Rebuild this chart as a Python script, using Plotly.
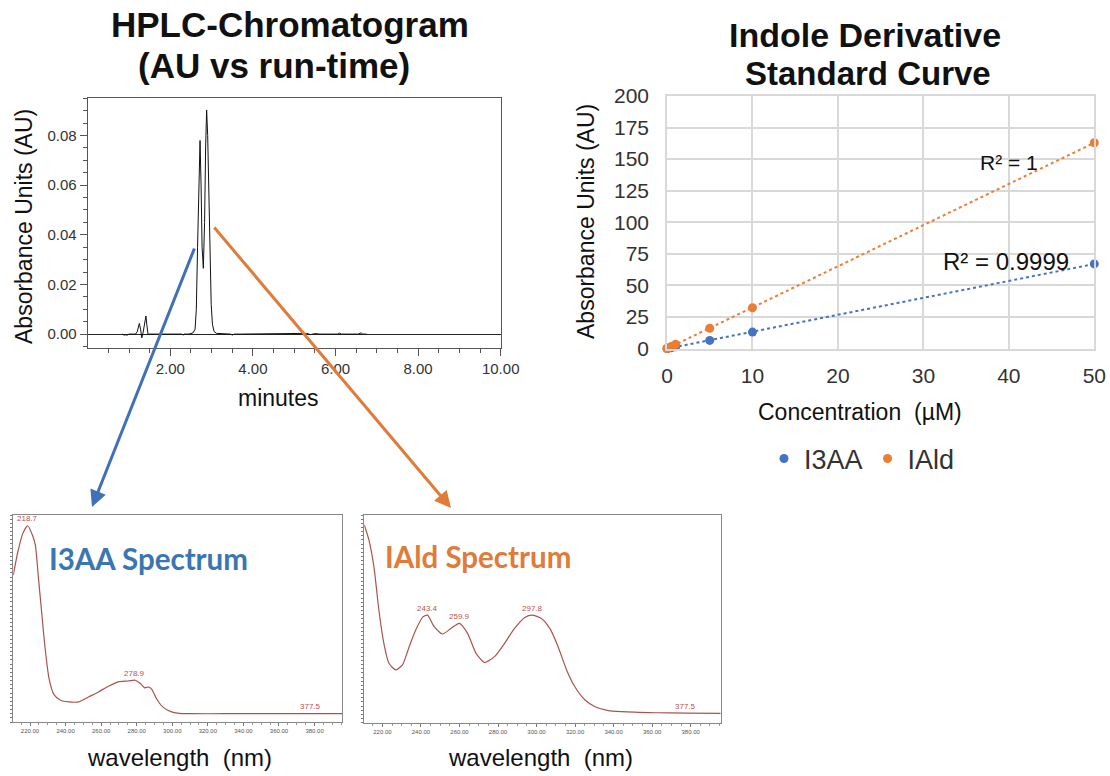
import numpy as np
import plotly.graph_objects as go

# ---------------- data ----------------
# HPLC chromatogram (run-time in minutes, absorbance in AU)
rt_min = [0.84, 0.88, 0.92, 0.96, 1.00, 1.08, 1.16, 1.20, 1.25, 1.28, 1.31, 1.34, 1.38, 1.41, 1.43,
          1.46, 1.49, 1.60, 1.80, 1.98, 2.03, 2.08, 2.14, 2.20, 2.28, 2.31, 2.34, 2.45, 2.55, 2.60,
          2.63, 2.66, 2.69, 2.72, 2.745, 2.77, 2.80, 2.83, 2.855, 2.88, 2.905, 2.93, 2.96, 2.99,
          3.02, 3.06, 3.12, 3.30, 3.46, 3.50, 3.55, 3.70, 4.50, 5.20, 5.30, 5.40, 5.50, 5.62, 5.80,
          6.05, 6.10, 6.14, 6.55, 6.62, 6.66, 6.75]
rt_au = [0.0, -0.0004, -0.0003, -0.0004, 0.0, 0.0, 0.0, 0.001, 0.0043, 0.002, -0.0015, 0.0005, 0.0045,
         0.0073, 0.004, 0.0, 0.0, 0.0, 0.0, -0.0003, 0.0, -0.0003, 0.0, 0.0, 0.0, -0.0004, 0.0, 0.0,
         0.0005, 0.002, 0.010, 0.035, 0.065, 0.078, 0.060, 0.035, 0.0265, 0.045, 0.075, 0.0903,
         0.080, 0.055, 0.030, 0.012, 0.004, 0.001, 0.0003, 0.0, 0.0, -0.0004, 0.0, 0.0, 0.0, 0.0,
         0.0003, -0.0002, 0.0002, 0.0, 0.0, 0.0, 0.0004, 0.0, 0.0, 0.0005, 0.0, 0.0]

# Standard curve
conc_uM = [0, 0.1, 0.5, 1, 5, 10, 50]
i3aa_au = [0, 0.1, 0.6, 1.3, 6.4, 13.0, 67.0]
iald_au = [0, 0.3, 1.6, 3.3, 16.0, 32.3, 163.0]
r2_labels = ["R² = 0.9999", "R² = 1"]

# UV spectra (relative absorbance)
i3aa_nm = [210.6, 213.1, 215.9, 218.7, 221.5, 223.0, 224.8, 226.7, 228.5, 230.7, 233.5, 237.2,
           241.8, 247.4, 252.9, 258.5, 264.1, 269.6, 275.2, 278.9, 282.2, 284.4, 286.7, 288.5,
           290.9, 294.6, 299.2, 303.9, 310.0, 330.0, 350.0, 377.5, 395.6]
i3aa_abs = [0.71, 0.82, 0.91, 0.948, 0.90, 0.855, 0.69, 0.516, 0.355, 0.21, 0.132, 0.105, 0.097,
            0.097, 0.121, 0.145, 0.173, 0.194, 0.198, 0.202, 0.185, 0.165, 0.169, 0.158, 0.116,
            0.073, 0.05, 0.042, 0.04, 0.04, 0.04, 0.04, 0.04]
i3aa_peaks = [218.7, 278.9, 377.5]

iald_nm = [210.6, 213.0, 215.6, 218.2, 220.8, 223.4, 226.9, 230.4, 233.9, 237.3, 240.8, 243.4,
           246.9, 251.2, 255.6, 259.9, 264.2, 268.6, 273.0, 278.2, 283.4, 288.6, 293.9, 297.8,
           302.5, 306.9, 311.2, 315.6, 319.9, 325.2, 330.4, 337.3, 344.2, 361.7, 377.5, 395.6]
iald_abs = [0.952, 0.88, 0.75, 0.54, 0.38, 0.286, 0.254, 0.278, 0.366, 0.446, 0.507, 0.518,
            0.462, 0.427, 0.454, 0.478, 0.43, 0.334, 0.29, 0.318, 0.382, 0.454, 0.507, 0.518,
            0.502, 0.454, 0.366, 0.254, 0.173, 0.109, 0.077, 0.058, 0.053, 0.048, 0.046, 0.045]
iald_peaks = [243.4, 259.9, 297.8, 377.5]

wl_ticks = [220, 240, 260, 280, 300, 320, 340, 360, 380]
rt_ticks = [2, 4, 6, 8, 10]

# ---------------- helpers ----------------
W, H = 1110, 776
def px(x):
    return x / W
def py(y):
    return 1 - y / H

BLUE = "#4472C4"
ORANGE = "#ED7D31"
SPEC = "#A8544E"
FONT = "Liberation Sans, Arial, sans-serif"

fig = go.Figure()

# chromatogram
fig.add_trace(go.Scatter(x=rt_min, y=rt_au, mode="lines", line=dict(color="#111", width=1),
                         xaxis="x", yaxis="y", showlegend=False, hoverinfo="skip"))

# standard curve with linear trendlines
for name, vals, color in [("I3AA", i3aa_au, BLUE), ("IAld", iald_au, ORANGE)]:
    coef = np.polyfit(conc_uM, vals, 1)
    xs = np.array([min(conc_uM), max(conc_uM)])
    fig.add_trace(go.Scatter(x=xs, y=np.polyval(coef, xs), mode="lines",
                             line=dict(color=color, width=2, dash="dot"),
                             xaxis="x2", yaxis="y2", showlegend=False, cliponaxis=False))
for name, vals, color in [("I3AA", i3aa_au, BLUE), ("IAld", iald_au, ORANGE)]:
    fig.add_trace(go.Scatter(x=conc_uM, y=vals, mode="markers", name=name,
                             marker=dict(color=color, size=9), xaxis="x2", yaxis="y2",
                             cliponaxis=False))

# spectra
fig.add_trace(go.Scatter(x=i3aa_nm, y=i3aa_abs, mode="lines", line=dict(color=SPEC, width=1.2, shape="spline", smoothing=0.6),
                         xaxis="x3", yaxis="y3", showlegend=False))
fig.add_trace(go.Scatter(x=iald_nm, y=iald_abs, mode="lines", line=dict(color=SPEC, width=1.2, shape="spline", smoothing=0.6),
                         xaxis="x4", yaxis="y4", showlegend=False))

axis_line = "#555"
spec_x = dict(range=[210.6, 395.6], tickvals=wl_ticks, ticktext=[f"{v:.2f}" for v in wl_ticks],
              tickfont=dict(size=6, color="#555", family=FONT), ticks="outside", ticklen=3,
              tickcolor="#777", minor=dict(ticks="outside", dtick=5, tick0=210, ticklen=2, tickcolor="#999"),
              showline=True, linecolor="#888", mirror=True, showgrid=False, zeroline=False)
spec_y = dict(range=[0, 1], showticklabels=False, ticks="outside", ticklen=2, dtick=0.02, tickcolor="#777",
              showline=True, linecolor="#888", mirror=True, showgrid=False, zeroline=False)

annotations = []
def text(x, y, s, size, color="#111", bold=False, angle=0, family=FONT, xanchor="center"):
    annotations.append(dict(x=px(x), y=py(y), xref="paper", yref="paper", text=f"<b>{s}</b>" if bold else s,
                            showarrow=False, font=dict(size=size, color=color, family=family),
                            textangle=angle, xanchor=xanchor, yanchor="middle"))

# titles
text(290, 25, "HPLC-Chromatogram", 35, bold=True)
text(274, 65, "(AU vs run-time)", 35, bold=True)
text(865, 35, "Indole Derivative", 34, bold=True)
text(868, 73, "Standard Curve", 33, bold=True)
# axis titles
text(24, 227, "Absorbance Units (AU)", 23, angle=-90)
text(278, 398, "minutes", 23)
text(586, 222, "Absorbance Units (AU)", 23, angle=-90)
text(860, 412, "Concentration  (µM)", 23)
text(179, 757, "wavelength  (nm)", 24)
text(540, 757, "wavelength  (nm)", 24)
# spectrum titles
text(148, 558, "I3AA Spectrum", 29.5, color="#3A76B3", bold=True, family="Lato, Open Sans, sans-serif")
text(478, 556, "IAld Spectrum", 29.5, color="#E07B39", bold=True, family="Lato, Open Sans, sans-serif")

# R² labels next to the trendlines
annotations.append(dict(x=50, y=67, xref="x2", yref="y2", text=r2_labels[0], showarrow=False,
                        xshift=-88, yshift=2, font=dict(size=24, color="#111", family=FONT)))
annotations.append(dict(x=40, y=150, xref="x2", yref="y2", text=r2_labels[1], showarrow=False,
                        xshift=0, yshift=-3, font=dict(size=21, color="#111", family=FONT)))

# spectrum peak labels
for nm, ys, peaks, xa, ya in [(i3aa_nm, i3aa_abs, i3aa_peaks, "x3", "y3"),
                              (iald_nm, iald_abs, iald_peaks, "x4", "y4")]:
    for p in peaks:
        yv = float(np.interp(p, nm, ys))
        annotations.append(dict(x=p, y=yv, xref=xa, yref=ya, text=f"{p:.1f}", showarrow=False,
                                yshift=7, font=dict(size=8, color="#C0504D", family=FONT)))

# arrows from chromatogram peaks to spectra
annotations.append(dict(x=px(92), y=py(507), xref="paper", yref="paper", ax=195 - 92, ay=247 - 507,
                        axref="pixel", ayref="pixel", showarrow=True, arrowhead=2, arrowsize=1.1,
                        arrowwidth=3, arrowcolor="#4070B8", text=""))
annotations.append(dict(x=px(451), y=py(508), xref="paper", yref="paper", ax=213 - 451, ay=226 - 508,
                        axref="pixel", ayref="pixel", showarrow=True, arrowhead=2, arrowsize=1.1,
                        arrowwidth=3, arrowcolor="#E07B39", text=""))

fig.update_layout(
    width=W, height=H, margin=dict(l=0, r=0, t=0, b=0, autoexpand=False),
    paper_bgcolor="white", plot_bgcolor="white",
    font=dict(family=FONT, color="#222"),
    xaxis=dict(domain=[px(87.7), px(500.7)], anchor="y", range=[0, 10], tickvals=rt_ticks,
               ticktext=[f"{v:.2f}" for v in rt_ticks], ticks="outside", ticklen=7, tickcolor=axis_line,
               minor=dict(ticks="outside", tickvals=[v / 2 for v in range(1, 20)], ticklen=4, tickcolor=axis_line),
               showline=True, linecolor=axis_line, mirror=True, showgrid=False, zeroline=False,
               tickfont=dict(size=15, color="#333")),
    yaxis=dict(domain=[py(348), py(98.3)], anchor="x", range=[-0.0056, 0.095], tick0=0, dtick=0.02,
               tickformat=".2f", ticks="outside", ticklen=7, tickcolor=axis_line,
               minor=dict(ticks="outside", dtick=0.005, tick0=0, ticklen=4, tickcolor=axis_line),
               showline=True, linecolor=axis_line, mirror=True, showgrid=False,
               zeroline=True, zerolinecolor="#222", zerolinewidth=1, tickfont=dict(size=15, color="#333")),
    xaxis2=dict(domain=[px(667), px(1094.3)], anchor="y2", range=[0, 50], dtick=10, showgrid=True,
                gridcolor="#D9D9D9", gridwidth=1.5, showline=True, linecolor="#D9D9D9", linewidth=1.5,
                mirror=True, zeroline=False, ticks="", ticklabelstandoff=8,
                tickfont=dict(size=21, color="#333")),
    yaxis2=dict(domain=[py(348.5), py(96)], anchor="x2", range=[0, 200], dtick=25, showgrid=True,
                gridcolor="#D9D9D9", gridwidth=1.5, showline=True, linecolor="#D9D9D9", linewidth=1.5,
                mirror=True, zeroline=False, ticks="", ticklabelstandoff=12,
                tickfont=dict(size=21, color="#333")),
    xaxis3=dict(domain=[px(13.3), px(342.3)], anchor="y3", **spec_x),
    yaxis3=dict(domain=[py(722), py(515)], anchor="x3", **spec_y),
    xaxis4=dict(domain=[px(364.3), px(720.7)], anchor="y4", **spec_x),
    yaxis4=dict(domain=[py(722.7), py(515)], anchor="x4", **spec_y),
    legend=dict(orientation="h", x=px(862), y=py(459), xanchor="center", yanchor="middle",
                font=dict(size=27, color="#333"), bgcolor="rgba(0,0,0,0)"),
    annotations=annotations,
)

# remove the page's default body margin so the figure fills the window exactly
fig.write_html("out.html", config={"displayModeBar": False},
               post_script="document.body.style.margin='0';document.body.style.overflow='hidden';")
